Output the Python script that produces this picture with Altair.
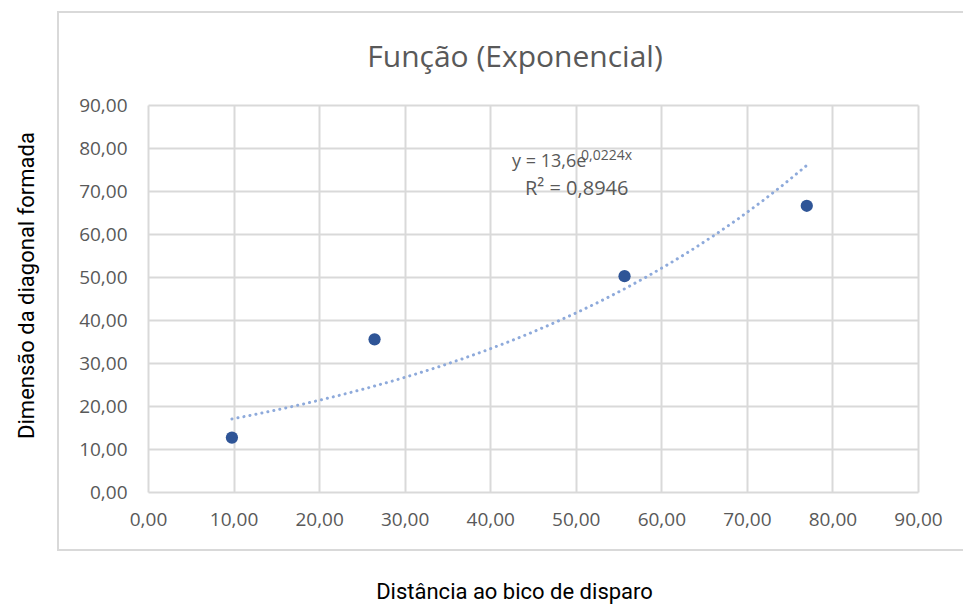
import altair as alt
import pandas as pd

# data
dist = [9.81, 26.48, 55.70, 77.00]
diag = [12.66, 35.50, 50.20, 66.56]
ticks = [0, 10, 20, 30, 40, 50, 60, 70, 80, 90]
title_text = "Função (Exponencial)"
x_title = "Distância ao bico de disparo"
y_title = "Dimensão da diagonal formada"
eq_main = "y = 13,6e"
eq_sup = "0,0224x"
r2_text = "R² = 0,8946"

df = pd.DataFrame({"x": dist, "y": diag})

FONT = "Open Sans"
TFONT = "Roboto"
GRID = "#d9d9d9"
LABEL = "#595959"
fmt = "replace(format(datum.value, '.2f'), '.', ',')"

xs = alt.X("x:Q", scale=alt.Scale(domain=[0, 90], nice=False, zero=False),
           axis=alt.Axis(values=ticks, labelExpr=fmt, title=x_title,
                         labelPadding=18, labelFlush=False,
                         titleX=366, titleY=106, titleBaseline="alphabetic",
                         titleAlign="center"))
ys = alt.Y("y:Q", scale=alt.Scale(domain=[0, 90], nice=False, zero=False),
           axis=alt.Axis(values=ticks, labelExpr=fmt, title=y_title,
                         labelPadding=21, labelFlush=False,
                         titleX=-115, titleY=180, titleAngle=-90,
                         titleBaseline="alphabetic", titleAlign="center"))

base = alt.Chart(df)
first = "datum.x == " + str(dist[0])

frame = base.mark_rect(fill=None, stroke=GRID, strokeWidth=2).encode(
    x=alt.value(-90), x2=alt.value(820), y=alt.value(-93), y2=alt.value(445)
).transform_filter(first)

# Excel-style exponential trendline: least squares on ln(y)
trend = base.transform_calculate(ly="log(datum.y)").transform_regression(
    "x", "ly", method="poly", order=1, extent=[min(dist), max(dist)]
).transform_calculate(y="exp(datum.ly)").mark_line(
    color="#8eaadb", strokeWidth=3, strokeDash=[0.1, 6], strokeCap="round"
).encode(x=xs, y=ys)

pts = base.mark_circle(size=150, color="#2f5597", opacity=1).encode(x=xs, y=ys)

def label(txt, size, x, y, color=LABEL, align="left"):
    return base.mark_text(text=txt, font=FONT, fontSize=size, color=color,
                          align=align, baseline="alphabetic").encode(
        x=alt.value(x), y=alt.value(y)).transform_filter(first)

ttl = label(title_text, 30, 367, -38, align="center")
t1 = label(eq_main, 18, 364, 62)
t2 = label(eq_sup, 14, 433, 55)
t3 = label(r2_text, 20, 377, 90)

chart = alt.layer(frame, trend, pts, ttl, t1, t2, t3).properties(
    width=770, height=387,
    autosize=alt.AutoSizeParams(type="none"),
    padding={"left": 148, "top": 105, "right": 45, "bottom": 112},
    background="white",
).configure_view(stroke=None).configure_axis(
    grid=True, gridColor=GRID, gridWidth=2, domain=False, ticks=False,
    labelFont=FONT, labelFontSize=19, labelColor=LABEL,
    titleFont=TFONT, titleFontSize=22, titleColor="#000000", titleFontWeight="normal"
)

chart.save("out.html", embed_options={"renderer": "svg", "actions": False})
